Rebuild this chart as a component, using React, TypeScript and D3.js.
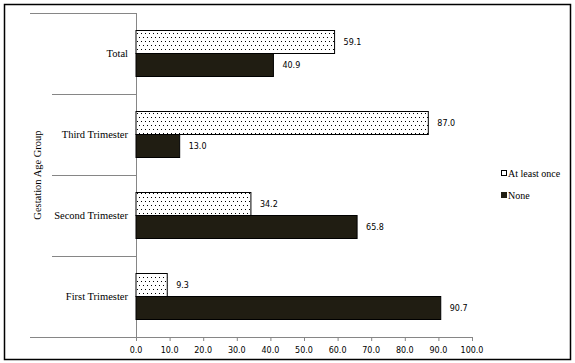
import React from "react";
import * as d3 from "d3";

const categories = ["Total", "Third Trimester", "Second Trimester", "First Trimester"];
const atLeastOnce = [59.1, 87.0, 34.2, 9.3];
const none = [40.9, 13.0, 65.8, 90.7];
const xTicks = [0, 10, 20, 30, 40, 50, 60, 70, 80, 90, 100];
const seriesNames = ["At least once", "None"];

const SERIF = "'Liberation Serif', 'Times New Roman', serif";
const SANS = "'DejaVu Sans', 'Liberation Sans', sans-serif";

export default function App() {
  const W = 575, H = 363;
  const x = d3.scaleLinear().domain([0, 100]).range([136, 472]);
  const y = d3.scaleBand().domain(categories).range([13, 337]);
  const bw = 23;
  const dark = "#201d12";
  const grey = "#868686";
  const bandEdges = categories.map((c) => y(c)!).concat([337]);
  return (
    <svg width={W} height={H} style={{ position: "absolute", left: 0, top: 0 }}>
      <defs>
        <pattern id="dots" width="4" height="8" patternUnits="userSpaceOnUse">
          <rect width="4" height="8" fill="#fff" />
          <rect x="1" y="1" width="1" height="1" fill="#000" />
          <rect x="3" y="5" width="1" height="1" fill="#000" />
        </pattern>
      </defs>
      <rect x={0} y={0} width={W} height={H} fill="#fff" />
      <rect x={4.5} y={4.5} width={566} height={355} fill="none" stroke="#000" strokeWidth={1.5} />
      {bandEdges.map((e, i) => (
        <line key={i} x1={i === 0 || i === bandEdges.length - 1 ? 30 : 52} x2={136} y1={e + 0.5} y2={e + 0.5} stroke={grey} />
      ))}
      <line x1={136} x2={472} y1={337.5} y2={337.5} stroke={grey} />
      <line x1={136.5} x2={136.5} y1={13} y2={341} stroke={grey} />
      {xTicks.map((t) => (
        <g key={t}>
          <line x1={x(t) + 0.5} x2={x(t) + 0.5} y1={337} y2={341} stroke={grey} />
          <text x={x(t)} y={353} textAnchor="middle" fontFamily={SANS} fontSize={8} fill="#000">
            {t.toFixed(1)}
          </text>
        </g>
      ))}
      {categories.map((c, i) => {
        const cy = y(c)! + y.bandwidth() / 2;
        const y1 = cy - bw;
        const y2 = cy;
        return (
          <g key={c}>
            <text x={128} y={cy + 3.5} textAnchor="end" fontFamily={SERIF} fontSize={10.5} fill="#000">
              {c}
            </text>
            <rect x={x(0)} y={y1} width={x(atLeastOnce[i]) - x(0)} height={bw} fill="url(#dots)" stroke="#000" strokeWidth={1} />
            <rect x={x(0)} y={y2} width={x(none[i]) - x(0)} height={bw} fill={dark} stroke="#000" strokeWidth={1} />
            <text x={x(atLeastOnce[i]) + 9} y={y1 + bw / 2 + 3} fontFamily={SANS} fontSize={8} fill="#000">
              {atLeastOnce[i].toFixed(1)}
            </text>
            <text x={x(none[i]) + 9} y={y2 + bw / 2 + 3} fontFamily={SANS} fontSize={8} fill="#000">
              {none[i].toFixed(1)}
            </text>
          </g>
        );
      })}
      <text transform={`translate(41,175) rotate(-90)`} textAnchor="middle" fontFamily={SERIF} fontSize={10.5} fill="#000">
        Gestation Age Group
      </text>
      <rect x={501.5} y={170.5} width={5} height={5} fill="#fff" stroke="#000" />
      <text x={508} y={177} fontFamily={SERIF} fontSize={10} fill="#000">{seriesNames[0]}</text>
      <rect x={501} y={192} width={6} height={6} fill={dark} />
      <text x={508} y={199} fontFamily={SERIF} fontSize={10} fill="#000">{seriesNames[1]}</text>
    </svg>
  );
}
